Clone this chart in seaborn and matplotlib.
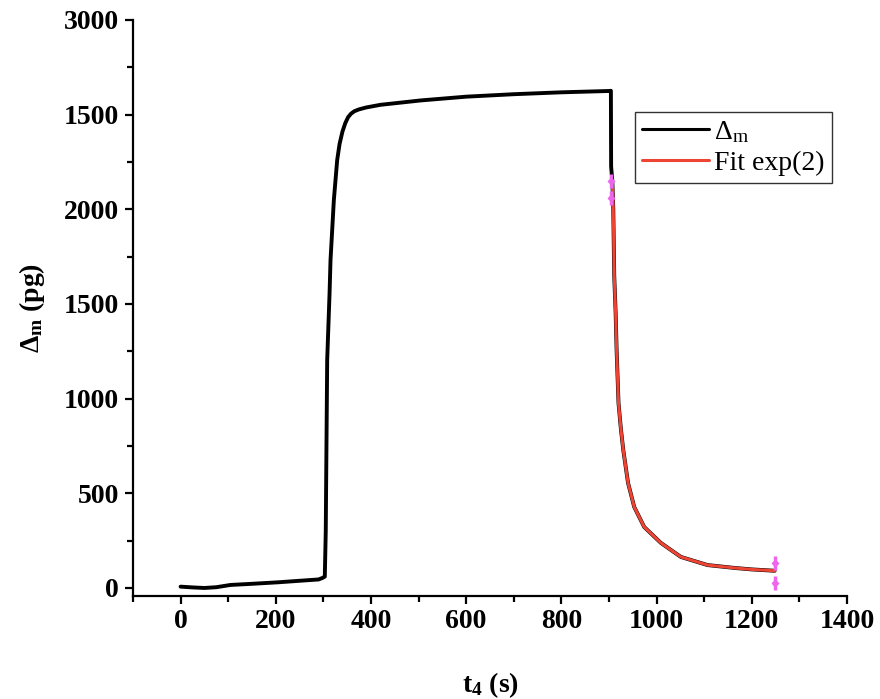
import numpy as np
import pandas as pd
import matplotlib
matplotlib.use("Agg")
import matplotlib.pyplot as plt
import seaborn as sns
from matplotlib.lines import Line2D

# ---- data (axis coordinates) ----
t_data = [0, 25, 50, 75, 105, 150, 205, 250, 290, 298, 303, 305, 306, 308, 313, 315,
          322, 329, 334, 340, 346, 352, 358, 365, 375, 390, 420, 504, 600, 700, 800,
          900, 904, 904.5,
          907, 909, 911, 914, 916, 920, 925, 930, 940, 953, 974, 1009, 1051, 1107, 1163,
          1200, 1248]
v_data = [7, 3, 0, 4, 16, 22, 30, 38, 45, 53, 60, 300, 607, 1204, 1558, 1732,
          2049, 2260, 2345, 2410, 2455, 2487, 2505, 2518, 2528, 2538, 2552, 2575, 2595,
          2608, 2618, 2625, 2626, 2226,
          2150, 2000, 1650, 1450, 1257, 977, 840, 729, 555, 428, 322, 238, 164, 121, 106,
          98, 91]

t_fit = [907, 909, 911, 914, 916, 920, 925, 930, 940, 953, 974, 1009, 1051, 1107, 1163,
         1200, 1248]
v_fit = [2150, 2000, 1650, 1450, 1257, 977, 840, 729, 555, 428, 322, 238, 164, 121, 106,
         98, 91]

marker_t = [905, 905, 1249, 1249]
marker_v = [2150, 2060, 132, 28]

y_ticks = [0, 500, 1000, 1500, 2000, 2500, 3000]
y_tick_labels = ["0", "500", "1000", "1500", "2000", "1500", "3000"]
x_ticks = [0, 200, 400, 600, 800, 1000, 1200, 1400]
x_tick_labels = ["0", "200", "400", "600", "800", "1000", "1200", "1400"]

legend_labels = [r"$\Delta_{\mathrm{m}}$", "Fit exp(2)"]

# ---- style ----
sns.set_theme(style="ticks")
plt.rcParams["font.family"] = ["Liberation Serif", "DejaVu Serif"]
plt.rcParams["mathtext.fontset"] = "custom"
plt.rcParams["mathtext.rm"] = "Liberation Serif"
plt.rcParams["mathtext.it"] = "Liberation Serif:italic"
plt.rcParams["mathtext.bf"] = "Liberation Serif:bold"
plt.rcParams["text.color"] = "black"
plt.rcParams["axes.labelcolor"] = "black"

df = pd.DataFrame({"t": t_data, "v": v_data})
df_fit = pd.DataFrame({"t": t_fit, "v": v_fit})
df_mk = pd.DataFrame({"t": marker_t, "v": marker_v})

fig = plt.figure(figsize=(8.8, 6.99), dpi=100)
ax = fig.add_axes([0.1511, 0.148, 0.8114, 0.8234])

sns.lineplot(data=df, x="t", y="v", ax=ax, color="black", linewidth=2.8,
             sort=False, estimator=None)
sns.lineplot(data=df_fit, x="t", y="v", ax=ax, color="#EE4433", linewidth=2.2,
             sort=False, estimator=None)
ax.scatter(df_mk["t"], df_mk["v"], marker="|", s=90, color="#EE66EE",
           linewidths=2.5, zorder=5)
ax.scatter(df_mk["t"], df_mk["v"], marker="D", s=10, color="#EE66EE", zorder=5)

ax.set_xlim(-100, 1400)
ax.set_ylim(-40, 3000)
ax.set_xticks(x_ticks)
ax.set_xticklabels(x_tick_labels)
ax.set_yticks(y_ticks)
ax.set_yticklabels(y_tick_labels)
ax.set_xticks(np.arange(-100, 1400, 100), minor=True)
ax.set_yticks(np.arange(0, 3000, 250), minor=True)

for side in ["top", "right"]:
    ax.spines[side].set_visible(False)
for side in ["left", "bottom"]:
    ax.spines[side].set_linewidth(1.6)
    ax.spines[side].set_color("black")

ax.tick_params(axis="both", which="major", direction="out", length=6, width=1.6,
               colors="black", labelsize=20, pad=4)
ax.tick_params(axis="both", which="minor", direction="out", length=4, width=1.6,
               colors="black")
for lab in ax.get_xticklabels() + ax.get_yticklabels():
    lab.set_fontweight("bold")
    lab.set_color("black")

ax.set_xlabel(r"$\mathbf{t_4}$ (s)", fontsize=20, fontweight="bold", labelpad=26,
              color="black")
ax.set_ylabel(r"$\mathbf{\Delta_m}$ (pg)", fontsize=20, fontweight="bold", labelpad=12,
              color="black")

handles = [Line2D([0], [0], color="black", linewidth=2.2),
           Line2D([0], [0], color="#EE4433", linewidth=2.2)]
leg = ax.legend(handles, legend_labels, loc="upper left",
                bbox_to_anchor=(0.703, 0.84), borderaxespad=0, fontsize=20,
                frameon=True, fancybox=False, edgecolor="black", handlelength=2.4,
                handletextpad=0.2, borderpad=0.25, labelspacing=0.2)
leg.get_frame().set_linewidth(1.0)
for txt in leg.get_texts():
    txt.set_color("black")

ax.set_facecolor("white")
fig.patch.set_facecolor("white")
fig.savefig("out.png", dpi=100)
